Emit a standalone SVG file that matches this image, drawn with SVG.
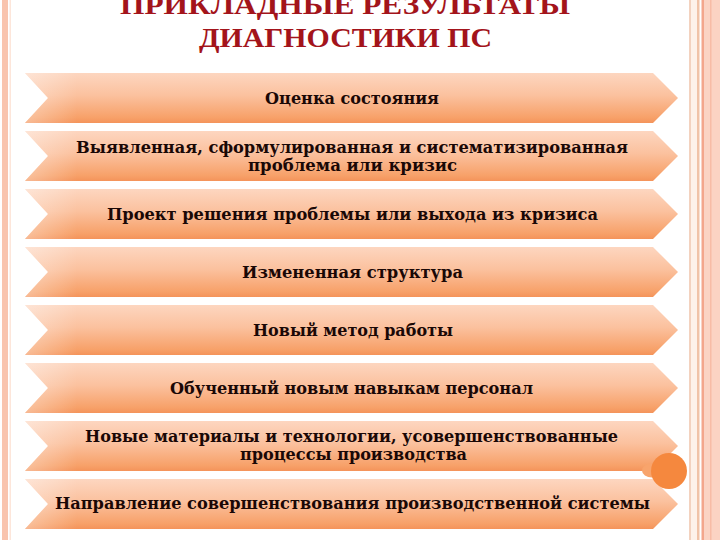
<svg xmlns="http://www.w3.org/2000/svg" width="720" height="540" viewBox="0 0 720 540">
<defs>
<linearGradient id="gv" x1="0" y1="0" x2="0" y2="1">
<stop offset="0" stop-color="#fdd6c0"/>
<stop offset="0.45" stop-color="#fbc19e"/>
<stop offset="0.9" stop-color="#f7a068"/>
<stop offset="1" stop-color="#f4935a"/>
</linearGradient>
<linearGradient id="gh" x1="0" y1="0" x2="1" y2="0">
<stop offset="0" stop-color="#ffffff" stop-opacity="0.35"/>
<stop offset="0.08" stop-color="#ffffff" stop-opacity="0"/>
</linearGradient>
<path id="arrow" d="M25,0 L653,0 L678,25 L653,50 L25,50 L48,25 Z"/>
</defs>
<style>
.bg{fill:url(#gv)}
.ov{fill:url(#gh)}
.t{font-family:"DejaVu Serif","Liberation Serif",serif;font-weight:bold;font-size:16px;fill:#1a0806;text-anchor:middle}
.title{font-family:"Liberation Serif","DejaVu Serif",serif;font-weight:bold;font-size:28px;fill:#a3141b;text-anchor:middle}
</style>
<rect width="720" height="540" fill="#ffffff"/>
<rect x="2" y="0" width="6" height="540" fill="#f9c4ae"/>
<rect x="9.5" y="0" width="1.5" height="540" fill="#fde6da"/>
<rect x="689" y="0" width="2" height="540" fill="#f3d2bf"/>
<rect x="691" y="0" width="6" height="540" fill="#fdf2ea"/>
<rect x="697" y="0" width="2.5" height="540" fill="#f0c3a8"/>
<rect x="701.5" y="0" width="3" height="540" fill="#f3a68c"/>
<rect x="704.5" y="0" width="15.5" height="540" fill="#fbd3c3"/>
<rect x="710" y="0" width="1.5" height="540" fill="#f7bca6"/>
<g id="title">
<text class="title" x="345" y="14" textLength="450" lengthAdjust="spacingAndGlyphs">ПРИКЛАДНЫЕ РЕЗУЛЬТАТЫ</text>
<text class="title" x="345.5" y="47" textLength="293" lengthAdjust="spacingAndGlyphs">ДИАГНОСТИКИ ПС</text>
</g>
<g id="node1" transform="translate(0,73)">
<use href="#arrow" class="bg"/><use href="#arrow" class="ov"/>
<text class="t" x="352" y="31" textLength="174" lengthAdjust="spacingAndGlyphs">Оценка состояния</text>
</g>
<g id="node2" transform="translate(0,131)">
<use href="#arrow" class="bg"/><use href="#arrow" class="ov"/>
<text class="t" x="352" y="22" textLength="552" lengthAdjust="spacingAndGlyphs">Выявленная, сформулированная и систематизированная</text>
<text class="t" x="352.5" y="40" textLength="209" lengthAdjust="spacingAndGlyphs">проблема или кризис</text>
</g>
<g id="node3" transform="translate(0,189)">
<use href="#arrow" class="bg"/><use href="#arrow" class="ov"/>
<text class="t" x="352.5" y="31" textLength="491" lengthAdjust="spacingAndGlyphs">Проект решения проблемы или выхода из кризиса</text>
</g>
<g id="node4" transform="translate(0,247)">
<use href="#arrow" class="bg"/><use href="#arrow" class="ov"/>
<text class="t" x="352.5" y="31" textLength="221" lengthAdjust="spacingAndGlyphs">Измененная структура</text>
</g>
<g id="node5" transform="translate(0,305)">
<use href="#arrow" class="bg"/><use href="#arrow" class="ov"/>
<text class="t" x="353" y="31" textLength="200" lengthAdjust="spacingAndGlyphs">Новый метод работы</text>
</g>
<g id="node6" transform="translate(0,363)">
<use href="#arrow" class="bg"/><use href="#arrow" class="ov"/>
<text class="t" x="351.5" y="31" textLength="363" lengthAdjust="spacingAndGlyphs">Обученный новым навыкам персонал</text>
</g>
<g id="node7" transform="translate(0,421)">
<use href="#arrow" class="bg"/><use href="#arrow" class="ov"/>
<text class="t" x="351.5" y="21" textLength="533" lengthAdjust="spacingAndGlyphs">Новые материалы и технологии, усовершенствованные</text>
<text class="t" x="353.5" y="39" textLength="227" lengthAdjust="spacingAndGlyphs">процессы производства</text>
</g>
<g id="node8" transform="translate(0,479)">
<use href="#arrow" class="bg"/><use href="#arrow" class="ov"/>
<text class="t" x="352.5" y="30" textLength="595" lengthAdjust="spacingAndGlyphs">Направление совершенствования производственной системы</text>
</g>
<g id="deco">
<ellipse cx="652" cy="470.5" rx="10" ry="7" fill="#f8a46c"/>
<circle cx="669" cy="471" r="18" fill="#f5883e"/>
</g>
<g id="connectors"/>
</svg>
